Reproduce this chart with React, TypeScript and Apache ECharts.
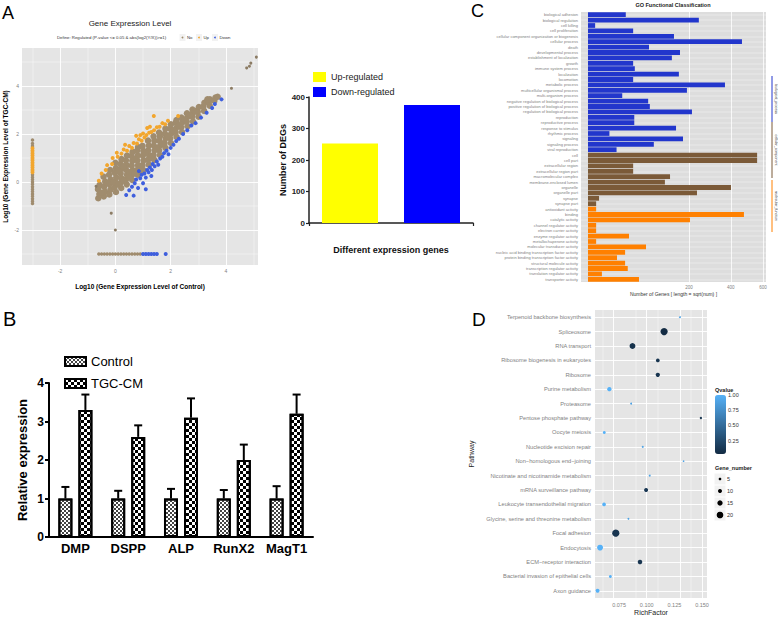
import React, { useEffect, useRef } from "react";
import * as echarts from "echarts";

const FONT = "'Liberation Sans', Arial, Helvetica, sans-serif";

// ================= Panel A: scatter (Log10 expression) =================
const scatterNo: number[][] = [
  [-0.62, -0.68], [-0.58, -0.5], [-0.63, -0.3], [-0.57, -0.12],
  [-0.42, -0.6], [-0.38, -0.4], [-0.41, -0.2], [-0.37, 0.02], [-0.43, 0.22],
  [-0.22, -0.52], [-0.18, -0.32], [-0.21, -0.1], [-0.17, 0.1], [-0.23, 0.3], [-0.19, 0.5],
  [0.02, -0.42], [-0.03, -0.22], [0.01, -0.02], [0.03, 0.18], [-0.02, 0.38], [0.02, 0.58], [0.0, 0.8],
  [0.21, -0.25], [0.18, -0.05], [0.22, 0.15], [0.19, 0.35], [0.21, 0.55], [0.18, 0.75], [0.22, 0.95],
  [0.41, -0.1], [0.38, 0.1], [0.42, 0.3], [0.39, 0.5], [0.41, 0.7], [0.38, 0.9], [0.42, 1.1],
  [0.61, 0.08], [0.58, 0.28], [0.62, 0.48], [0.59, 0.68], [0.61, 0.88], [0.58, 1.08], [0.62, 1.25],
  [0.81, 0.3], [0.78, 0.5], [0.82, 0.7], [0.79, 0.9], [0.81, 1.1], [0.78, 1.3], [0.82, 1.45],
  [1.01, 0.5], [0.98, 0.7], [1.02, 0.9], [0.99, 1.1], [1.01, 1.3], [0.98, 1.5],
  [1.21, 0.72], [1.18, 0.92], [1.22, 1.12], [1.19, 1.32], [1.21, 1.52], [1.18, 1.72],
  [1.41, 0.92], [1.38, 1.12], [1.42, 1.32], [1.39, 1.52], [1.41, 1.72], [1.38, 1.9],
  [1.61, 1.12], [1.58, 1.32], [1.62, 1.52], [1.59, 1.72], [1.61, 1.9], [1.58, 2.06],
  [1.81, 1.42], [1.78, 1.62], [1.82, 1.82], [1.79, 2.02], [1.81, 2.22],
  [2.01, 1.62], [1.98, 1.82], [2.02, 2.02], [1.99, 2.22], [2.01, 2.4],
  [2.21, 1.88], [2.18, 2.08], [2.22, 2.28], [2.19, 2.48], [2.21, 2.58],
  [2.41, 2.08], [2.38, 2.28], [2.42, 2.48], [2.39, 2.68],
  [2.61, 2.32], [2.58, 2.52], [2.62, 2.72], [2.59, 2.86],
  [2.81, 2.52], [2.78, 2.72], [2.82, 2.9], [2.79, 3.02],
  [3.01, 2.72], [2.98, 2.92], [3.02, 3.12],
  [3.21, 2.96], [3.18, 3.14], [3.22, 3.3],
  [3.41, 3.18], [3.38, 3.34], [3.42, 3.44],
  [3.58, 3.38], [3.62, 3.52], [3.33, 3.44], [3.7, 3.55],
  [-0.1, 0.0], [0.1, 0.45], [0.3, 0.65], [0.5, 0.4], [0.7, 0.95], [0.9, 0.6], [1.1, 1.2], [1.3, 1.0],
  [1.5, 1.4], [1.7, 1.6], [1.9, 1.9], [2.1, 2.15], [2.3, 2.35], [2.5, 2.6], [2.7, 2.8], [2.9, 2.95],
  [-0.5, -0.45], [-0.3, -0.05], [0.1, -0.1], [0.3, 0.05], [0.5, 0.2], [0.7, 0.35], [0.9, 0.45],
];
const scatterOutlierNo: number[][] = [
  [4.2, 3.9], [4.75, 4.75], [4.85, 4.82], [4.9, 4.95], [5.1, 5.2],
  [-0.15, -1.3], [0.0, -2.0], [-0.7, -0.18],
];
const scatterStripNo: number[][] = [
  [-3, -0.9], [-3, -0.8], [-3, -0.7], [-3, -0.6], [-3, -0.5], [-3, -0.4], [-3, -0.3], [-3, -0.2],
  [-3, -0.1], [-3, 0.0], [-3, 0.1], [-3, 0.2], [-3, 0.3], [-3, 1.5], [-3, 1.6], [-3, 1.75],
  [-0.6, -3], [-0.5, -3], [-0.4, -3], [-0.3, -3], [-0.2, -3], [-0.1, -3], [0.0, -3], [0.1, -3],
  [0.2, -3], [0.3, -3], [0.4, -3], [0.5, -3], [0.6, -3], [0.7, -3], [0.8, -3], [0.9, -3],
];
const scatterUp: number[][] = [
  [-0.5, 0.35], [-0.35, 0.5], [-0.3, 0.7], [-0.12, 0.75], [-0.1, 1.0], [0.08, 1.05], [0.05, 1.22],
  [0.22, 1.18], [0.3, 1.35], [0.42, 1.3], [0.5, 1.5], [0.6, 1.42], [0.66, 1.62], [0.78, 1.6],
  [0.85, 1.78], [0.75, 1.92], [0.95, 1.72], [1.05, 1.85], [1.0, 2.02], [1.12, 1.95], [1.22, 2.05],
  [1.15, 2.25], [1.3, 2.08], [1.4, 2.15], [1.39, 2.75], [1.5, 2.28], [1.6, 2.3], [1.7, 2.45],
  [1.8, 2.4], [1.9, 2.55], [2.27, 2.75], [-0.6, 0.05], [0.35, 1.55], [0.9, 1.95], [1.25, 2.3],
  [-3, 0.4], [-3, 0.5], [-3, 0.6], [-3, 0.7], [-3, 0.8], [-3, 0.9], [-3, 1.0], [-3, 1.1],
  [-3, 1.2], [-3, 1.3], [-3, 1.4],
];
const scatterDown: number[][] = [
  [0.39, -0.54], [0.5, -0.35], [0.6, -0.2], [0.66, -0.57], [0.7, -0.05], [0.75, 0.1], [0.82, -0.25],
  [0.9, 0.15], [0.95, 0.3], [1.0, -0.05], [1.05, 0.35], [1.1, 0.18], [1.15, 0.5], [1.2, 0.4],
  [1.25, 0.6], [1.32, 0.5], [1.35, 0.75], [1.42, 0.65], [1.5, 0.85], [1.55, 0.72], [1.62, 0.98],
  [1.7, 1.05], [1.76, 1.2], [1.85, 1.3], [1.92, 1.15], [2.0, 1.42], [2.1, 1.55], [2.2, 1.7],
  [2.3, 1.8], [2.45, 2.0], [2.6, 2.15], [2.75, 2.35], [2.9, 2.45], [3.1, 2.68], [3.3, 2.88],
  [3.5, 3.08], [3.6, 3.25], [3.84, 3.44], [1.1, -0.3], [0.85, 0.45], [1.3, 0.25],
  [1.0, -3], [1.1, -3], [1.2, -3], [1.3, -3], [1.4, -3], [1.5, -3], [1.82, -3],
];
const scatterMajor = [-2, 0, 2, 4];
const scatterMinor = [-3, -1, 1, 3, 5];

// ================= Panel A: DEG bar =================
const degLabels = ["Up-regulated", "Down-regulated"];
const degCounts = [252, 375];
const degColors = ["#FFFF00", "#0000FF"];

// ================= Panel B: qPCR =================
const qpcrGenes = ["DMP", "DSPP", "ALP", "RunX2", "MagT1"];
const controlMean = [1, 1, 1, 1, 1];
const controlErr = [0.3, 0.2, 0.25, 0.22, 0.32];
const tgcMean = [3.3, 2.6, 3.1, 2.0, 3.2];
const tgcErr = [0.4, 0.3, 0.5, 0.4, 0.5];

// ================= Panel C: GO classification =================
const goBPTerms = [
  "biological adhesion", "biological regulation", "cell killing", "cell proliferation",
  "cellular component organization or biogenesis", "cellular process", "death",
  "developmental process", "establishment of localization", "growth", "immune system process",
  "localization", "locomotion", "metabolic process", "multicellular organismal process",
  "multi-organism process", "negative regulation of biological process",
  "positive regulation of biological process", "regulation of biological process",
  "reproduction", "reproductive process", "response to stimulus", "rhythmic process",
  "signaling", "signaling process", "viral reproduction",
];
const goBPCounts = [28, 241, 1, 40, 145, 465, 73, 166, 138, 40, 43, 162, 40, 368, 192, 23, 71, 75, 212, 42, 42, 152, 9, 177, 85, 16];
const goCCTerms = [
  "cell", "cell part", "extracellular region", "extracellular region part",
  "macromolecular complex", "membrane-enclosed lumen", "organelle", "organelle part",
  "synapse", "synapse part",
];
const goCCCounts = [561, 561, 40, 40, 132, 116, 401, 233, 2.4, 1.3];
const goMFTerms = [
  "antioxidant activity", "binding", "catalytic activity", "channel regulator activity",
  "electron carrier activity", "enzyme regulator activity", "metallochaperone activity",
  "molecular transducer activity", "nucleic acid binding transcription factor activity",
  "protein binding transcription factor activity", "structural molecule activity",
  "transcription regulator activity", "translation regulator activity", "transporter activity",
];
const goMFCounts = [1.3, 477, 204, 1.3, 1.3, 33, 1.3, 66, 27, 16.5, 27, 31, 3.8, 51];
const goTicks = [200, 400, 600];
const goGroupNames = ["biological_process", "cellular_component", "molecular_function"];
const goColors = ["#2236CC", "#7B5A38", "#FF8000"];

// ================= Panel D: KEGG enrichment =================
const pathways = [
  "Terpenoid backbone biosynthesis", "Spliceosome", "RNA transport",
  "Ribosome biogenesis in eukaryotes", "Ribosome", "Purine metabolism", "Proteasome",
  "Pentose phosphate pathway", "Oocyte meiosis", "Nucleotide excision repair",
  "Non−homologous end−joining", "Nicotinate and nicotinamide metabolism",
  "mRNA surveillance pathway", "Leukocyte transendothelial migration",
  "Glycine, serine and threonine metabolism", "Focal adhesion", "Endocytosis",
  "ECM−receptor interaction", "Bacterial invasion of epithelial cells", "Axon guidance",
];
const richFactor = [0.13, 0.1157, 0.0871, 0.11, 0.11, 0.0662, 0.0859, 0.149, 0.0616, 0.0964, 0.1333, 0.1027, 0.0994, 0.0614, 0.0834, 0.072, 0.0578, 0.0939, 0.0671, 0.0555];
const qValue = [0.9, 0.03, 0.08, 0.1, 0.1, 1.0, 0.9, 0.1, 1.0, 0.9, 0.9, 0.9, 0.12, 1.0, 0.9, 0.1, 1.0, 0.1, 1.0, 1.0];
const geneNumber = [2, 22, 17, 9, 11, 11, 2, 4, 6, 3, 1, 2, 10, 9, 2, 22, 17, 12, 6, 10];
const richTicks = [0.075, 0.1, 0.125, 0.15];
const richMinor = [0.0625, 0.0875, 0.1125, 0.1375];
const qTicks = [1.0, 0.75, 0.5, 0.25];
const geneLegend = [5, 10, 15, 20];

const bubbleSize = (n: number) => 1.33 + 0.267 * n;

export default function App() {
  const ref = useRef<HTMLDivElement>(null);
  useEffect(() => {
    if (!ref.current) return;
    const chart = echarts.init(ref.current, null, { renderer: "svg" });

    const goTerms = [...goBPTerms, ...goCCTerms, ...goMFTerms];
    const goData = [
      ...goBPCounts.map((v) => ({ value: Math.sqrt(v), itemStyle: { color: goColors[0] } })),
      ...goCCCounts.map((v) => ({ value: Math.sqrt(v), itemStyle: { color: goColors[1] } })),
      ...goMFCounts.map((v) => ({ value: Math.sqrt(v), itemStyle: { color: goColors[2] } })),
    ];
    const qMin = Math.min(...qValue);
    const qMax = Math.max(...qValue);

    const gridLines = (idx: number, xs: { v: any; w: number }[], ys: { v: any; w: number }[], color = "#fff") => ({
      type: "scatter",
      xAxisIndex: idx,
      yAxisIndex: idx,
      data: [],
      z: 1,
      silent: true,
      markLine: {
        z: 1,
        silent: true,
        animation: false,
        symbol: ["none", "none"],
        label: { show: false },
        emphasis: { disabled: true },
        data: [
          ...xs.map((x) => ({ xAxis: x.v, lineStyle: { color, width: x.w, type: "solid" } })),
          ...ys.map((y) => ({ yAxis: y.v, lineStyle: { color, width: y.w, type: "solid" } })),
        ],
      },
    });

    const smallGray = { color: "#7F7F7F", fontFamily: FONT };
    const errBar = (mean: number[], err: number[], offset: number) => ({
      type: "custom",
      xAxisIndex: 3,
      yAxisIndex: 3,
      z: 5,
      silent: true,
      data: mean.map((m, i) => [i, m, m + err[i]]),
      renderItem: (_p: any, api: any) => {
        const c0 = api.coord([api.value(0), api.value(1)]);
        const c1 = api.coord([api.value(0), api.value(2)]);
        const x = c0[0] + offset;
        return {
          type: "group",
          children: [
            { type: "line", shape: { x1: x, y1: c0[1], x2: x, y2: c1[1] }, style: { stroke: "#000", lineWidth: 2 } },
            { type: "line", shape: { x1: x - 4, y1: c1[1], x2: x + 4, y2: c1[1] }, style: { stroke: "#000", lineWidth: 2 } },
          ],
        };
      },
    });

    const qBarTop = 395;
    const qBarH = 59;

    const option: any = {
      animation: false,
      textStyle: { fontFamily: FONT },
      grid: [
        { left: 22, top: 48, width: 236, height: 217, show: true, backgroundColor: "#E5E5E5", borderWidth: 0 },
        { left: 309, top: 97, width: 164, height: 126 },
        { left: 581, top: 12, width: 185, height: 270, show: true, backgroundColor: "#DDDDDD", borderWidth: 0 },
        { left: 49, top: 383, width: 264, height: 154 },
        { left: 595, top: 310, width: 112, height: 288, show: true, backgroundColor: "#E5E5E5", borderWidth: 0 },
      ],
      xAxis: [
        {
          gridIndex: 0, type: "value", min: -3.38, max: 5.16,
          axisLine: { show: false }, splitLine: { show: false },
          axisTick: { customValues: scatterMajor, length: 2, lineStyle: { color: "#7F7F7F", width: 0.5 } },
          axisLabel: { customValues: scatterMajor, fontSize: 5, margin: 3, ...smallGray },
          name: "Log10 (Gene Expression Level of Control)", nameLocation: "middle", nameGap: 18,
          nameTextStyle: { fontSize: 6.5, fontWeight: "bold", color: "#000" },
        },
        {
          gridIndex: 1, type: "category", data: degLabels,
          axisLine: { lineStyle: { color: "#222", width: 1.5 } },
          axisTick: { show: true, length: 3, lineStyle: { color: "#222", width: 1.2 } },
          axisLabel: { show: false },
          name: "Different expression genes", nameLocation: "middle", nameGap: 22,
          nameTextStyle: { fontSize: 9, fontWeight: "bold", color: "#111" },
        },
        {
          gridIndex: 2, type: "value", min: -0.98, max: 24.93,
          axisLine: { show: false }, splitLine: { show: false },
          axisTick: { customValues: goTicks.map(Math.sqrt), length: 2, lineStyle: { color: "#7F7F7F", width: 0.5 } },
          axisLabel: { customValues: goTicks.map(Math.sqrt), fontSize: 4.5, margin: 3, formatter: (v: number) => String(Math.round(v * v)), ...smallGray },
          name: "Number of Genes [ length = sqrt(num) ]", nameLocation: "middle", nameGap: 9,
          nameTextStyle: { fontSize: 5, color: "#333" },
        },
        {
          gridIndex: 3, type: "category", data: qpcrGenes,
          axisLine: { lineStyle: { color: "#000", width: 2 } },
          axisTick: { show: false },
          axisLabel: { fontSize: 13, fontWeight: "bold", color: "#000", margin: 5, interval: 0 },
        },
        {
          gridIndex: 4, type: "value", min: 0.0532, max: 0.1545,
          axisLine: { show: false }, splitLine: { show: false },
          axisTick: { customValues: richTicks, length: 2, lineStyle: { color: "#7F7F7F", width: 0.5 } },
          axisLabel: { customValues: richTicks, fontSize: 5.5, margin: 4, formatter: (v: number) => v.toFixed(3), ...smallGray },
          name: "RichFactor", nameLocation: "middle", nameGap: 11,
          nameTextStyle: { fontSize: 7, color: "#222" },
        },
      ],
      yAxis: [
        {
          gridIndex: 0, type: "value", min: -3.46, max: 5.58,
          axisLine: { show: false }, splitLine: { show: false },
          axisTick: { customValues: scatterMajor, length: 2, lineStyle: { color: "#7F7F7F", width: 0.5 } },
          axisLabel: { customValues: scatterMajor, fontSize: 5, margin: 3, ...smallGray },
          name: "Log10 (Gene Expression Level of TGC-CM)", nameLocation: "middle", nameGap: 13,
          nameTextStyle: { fontSize: 6.5, fontWeight: "bold", color: "#000" },
        },
        {
          gridIndex: 1, type: "value", min: 0, max: 400, interval: 100,
          axisLine: { show: true, lineStyle: { color: "#222", width: 1.5 } },
          axisTick: { show: true, length: 3, lineStyle: { color: "#222", width: 1.2 } },
          splitLine: { show: false },
          axisLabel: { fontSize: 8, fontWeight: "bold", color: "#222", margin: 4 },
          name: "Number of DEGs", nameLocation: "middle", nameGap: 19,
          nameTextStyle: { fontSize: 9, fontWeight: "bold", color: "#111" },
        },
        {
          gridIndex: 2, type: "category", data: goTerms, inverse: true,
          axisLine: { show: false },
          axisTick: { alignWithLabel: true, length: 1.5, lineStyle: { color: "#7F7F7F", width: 0.5 } },
          axisLabel: { fontSize: 4, margin: 3, interval: 0, ...smallGray },
        },
        {
          gridIndex: 3, type: "value", min: 0, max: 4, interval: 1,
          axisLine: { show: true, lineStyle: { color: "#000", width: 2 } },
          axisTick: { show: true, length: 4, lineStyle: { color: "#000", width: 2 } },
          splitLine: { show: false },
          axisLabel: { fontSize: 12, fontWeight: "bold", color: "#000", margin: 5 },
          name: "Relative expression", nameLocation: "middle", nameGap: 20,
          nameTextStyle: { fontSize: 13, fontWeight: "bold", color: "#000" },
        },
        {
          gridIndex: 4, type: "category", data: pathways, inverse: true,
          axisLine: { show: false },
          axisTick: { alignWithLabel: true, length: 2, lineStyle: { color: "#7F7F7F", width: 0.5 } },
          axisLabel: { fontSize: 5.7, margin: 4, interval: 0, ...smallGray },
          name: "Pathway", nameLocation: "middle", nameGap: 120,
          nameTextStyle: { fontSize: 7, color: "#222" },
        },
      ],
      legend: {
        data: ["Control", "TGC-CM"],
        left: 59, top: 350, orient: "vertical", icon: "rect",
        itemWidth: 21, itemHeight: 9, itemGap: 9,
        textStyle: { fontSize: 13, color: "#000", fontFamily: FONT },
      },
      visualMap: {
        type: "continuous", seriesIndex: 15, dimension: 2, min: qMin, max: qMax,
        inRange: { color: ["#132B43", "#56B1F7"] },
        left: 715, top: qBarTop, itemWidth: 11, itemHeight: qBarH,
        calculable: false, orient: "vertical", hoverLink: false,
        showLabel: false, text: ["", ""], padding: 0,
      },
      series: [
        // 0-4: Panel A scatter grid lines + points
        gridLines(0,
          [...scatterMinor.map((v) => ({ v, w: 0.4 })), ...scatterMajor.map((v) => ({ v, w: 0.9 }))],
          [...scatterMinor.map((v) => ({ v, w: 0.4 })), ...scatterMajor.map((v) => ({ v, w: 0.9 }))]),
        { type: "scatter", xAxisIndex: 0, yAxisIndex: 0, z: 2, symbolSize: 6.5, data: scatterNo, itemStyle: { color: "#A08C6E", opacity: 1 } },
        { type: "scatter", xAxisIndex: 0, yAxisIndex: 0, z: 2, symbolSize: 3, data: scatterOutlierNo, itemStyle: { color: "#8C7C64", opacity: 1 } },
        { type: "scatter", xAxisIndex: 0, yAxisIndex: 0, z: 3, symbolSize: 4, data: scatterUp, itemStyle: { color: "#F2A62E", opacity: 1 } },
        { type: "scatter", xAxisIndex: 0, yAxisIndex: 0, z: 3, symbolSize: 4, data: scatterDown, itemStyle: { color: "#3F5FDD", opacity: 1 } },
        { type: "scatter", xAxisIndex: 0, yAxisIndex: 0, z: 2, symbolSize: 3.5, data: scatterStripNo, itemStyle: { color: "#A08C6E", opacity: 1 } },
        // 6: Panel A bars
        {
          type: "bar", xAxisIndex: 1, yAxisIndex: 1, barWidth: 56,
          data: degCounts.map((v, i) => ({ value: v, itemStyle: { color: degColors[i] } })),
        },
        // 7-8: Panel C grid lines + bars
        gridLines(2, goTicks.map((t) => ({ v: Math.sqrt(t), w: 0.8 })), goTerms.map((t) => ({ v: t, w: 0.4 }))),
        { type: "bar", xAxisIndex: 2, yAxisIndex: 2, z: 2, barCategoryGap: "12%", data: goData },
        // 9-10: Panel B bars
        {
          type: "bar", name: "Control", xAxisIndex: 3, yAxisIndex: 3, barWidth: 14, barGap: "43%",
          data: controlMean,
          itemStyle: {
            color: "#FFFFFF", borderColor: "#000", borderWidth: 2,
            decal: { symbol: "rect", symbolSize: 1, color: "#444", dashArrayX: [[1.5, 1.5], [0, 1.5, 1.5, 0]], dashArrayY: [1.5, 0] },
          },
        },
        {
          type: "bar", name: "TGC-CM", xAxisIndex: 3, yAxisIndex: 3, barWidth: 14, barGap: "43%",
          data: tgcMean,
          itemStyle: {
            color: "#FFFFFF", borderColor: "#000", borderWidth: 2,
            decal: { symbol: "rect", symbolSize: 1, color: "#000", dashArrayX: [[3, 3], [0, 3, 3, 0]], dashArrayY: [3, 0] },
          },
        },
        // 11-12: Panel B error bars
        errBar(controlMean, controlErr, -10),
        errBar(tgcMean, tgcErr, 10),
        // 13: placeholder
        { type: "scatter", xAxisIndex: 4, yAxisIndex: 4, data: [], silent: true },
        // 14: Panel D grid lines
        gridLines(4,
          [...richMinor.map((v) => ({ v, w: 0.4 })), ...richTicks.map((v) => ({ v, w: 0.9 }))],
          pathways.map((p) => ({ v: p, w: 0.9 }))),
        // 15: Panel D bubbles
        {
          type: "scatter", xAxisIndex: 4, yAxisIndex: 4, z: 3,
          data: pathways.map((p, i) => [richFactor[i], p, qValue[i], geneNumber[i]]),
          symbolSize: (val: number[]) => bubbleSize(val[3]),
          itemStyle: { opacity: 1 },
        },
      ],
      graphic: [
        // panel letters
        { type: "text", x: 2, y: 4, style: { text: "A", fontSize: 18, fontFamily: FONT, fill: "#000" } },
        { type: "text", x: 3, y: 309, style: { text: "B", fontSize: 20, fontFamily: FONT, fill: "#000" } },
        { type: "text", x: 471, y: 2, style: { text: "C", fontSize: 18, fontFamily: FONT, fill: "#000" } },
        { type: "text", x: 472, y: 310, style: { text: "D", fontSize: 19, fontFamily: FONT, fill: "#000" } },
        // Panel A scatter title + define legend
        { type: "text", x: 130, y: 23, style: { text: "Gene Expression Level", fontSize: 8, fontFamily: FONT, fill: "#222", textAlign: "center", textVerticalAlign: "middle" } },
        { type: "text", x: 57, y: 37.5, style: { text: "Define: Regulated (P-value <= 0.05 & abs(log2(Y/X))>=1)", fontSize: 4.3, fontFamily: FONT, fill: "#333", textVerticalAlign: "middle" } },
        { type: "rect", shape: { x: 179.5, y: 34, width: 6, height: 7 }, style: { fill: "#F2F2F2" } },
        { type: "circle", shape: { cx: 182.5, cy: 37.5, r: 0.9 }, style: { fill: "#A08C6E" } },
        { type: "text", x: 187, y: 37.5, style: { text: "No", fontSize: 4.3, fontFamily: FONT, fill: "#333", textVerticalAlign: "middle" } },
        { type: "rect", shape: { x: 196, y: 34, width: 6, height: 7 }, style: { fill: "#F2F2F2" } },
        { type: "circle", shape: { cx: 199, cy: 37.5, r: 0.9 }, style: { fill: "#F2A62E" } },
        { type: "text", x: 203.5, y: 37.5, style: { text: "Up", fontSize: 4.3, fontFamily: FONT, fill: "#333", textVerticalAlign: "middle" } },
        { type: "rect", shape: { x: 212, y: 34, width: 6, height: 7 }, style: { fill: "#F2F2F2" } },
        { type: "circle", shape: { cx: 215, cy: 37.5, r: 0.9 }, style: { fill: "#3F5FDD" } },
        { type: "text", x: 219.5, y: 37.5, style: { text: "Down", fontSize: 4.3, fontFamily: FONT, fill: "#333", textVerticalAlign: "middle" } },
        // Panel A bar legend
        ...degLabels.flatMap((l, i) => [
          { type: "rect", shape: { x: 313, y: 72 + i * 15, width: 13, height: 10 }, style: { fill: degColors[i] } },
          { type: "text", x: 331, y: 77 + i * 15, style: { text: l, fontSize: 9, fontFamily: FONT, fill: "#222", textVerticalAlign: "middle" } },
        ]),
        // Panel C title + strip
        { type: "text", x: 673, y: 5, style: { text: "GO Functional Classification", fontSize: 5.5, fontWeight: "bold", fontFamily: FONT, fill: "#222", textAlign: "center", textVerticalAlign: "middle" } },
        ...goGroupNames.flatMap((g, i) => {
          const spans = [[76, 122], [122, 178], [180, 232]];
          const [a, b] = spans[i];
          return [
            { type: "line", shape: { x1: 772, y1: a, x2: 772, y2: b }, style: { stroke: goColors[i], lineWidth: 1 } },
            { type: "text", x: 775.5, y: (a + b) / 2, rotation: -Math.PI / 2, style: { text: g, fontSize: 3.6, fontFamily: FONT, fill: "#333", textAlign: "center", textVerticalAlign: "middle" } },
          ];
        }),
        // Panel D legends
        { type: "text", x: 715, y: 390, style: { text: "Qvalue", fontSize: 5.5, fontWeight: "bold", fontFamily: FONT, fill: "#222", textVerticalAlign: "middle" } },
        ...qTicks.map((q) => ({
          type: "text", x: 728, y: qBarTop + (1 - (q - qMin) / (qMax - qMin)) * qBarH,
          style: { text: q.toFixed(2), fontSize: 5.5, fontFamily: FONT, fill: "#333", textVerticalAlign: "middle" },
        })),
        { type: "text", x: 715, y: 468, style: { text: "Gene_number", fontSize: 5.5, fontWeight: "bold", fontFamily: FONT, fill: "#222", textVerticalAlign: "middle" } },
        ...geneLegend.flatMap((n, i) => [
          { type: "rect", shape: { x: 714.5, y: 473.5 + i * 12, width: 11, height: 11 }, style: { fill: "#F2F2F2" } },
          { type: "circle", shape: { cx: 720, cy: 479 + i * 12, r: bubbleSize(n) / 2 }, style: { fill: "#000" } },
          { type: "text", x: 727, y: 479 + i * 12, style: { text: String(n), fontSize: 5.5, fontFamily: FONT, fill: "#333", textVerticalAlign: "middle" } },
        ]),
      ],
    };
    chart.setOption(option);
    return () => chart.dispose();
  }, []);
  return <div ref={ref} style={{ position: "absolute", left: 0, top: 0, width: 778, height: 617, background: "#fff" }} />;
}
